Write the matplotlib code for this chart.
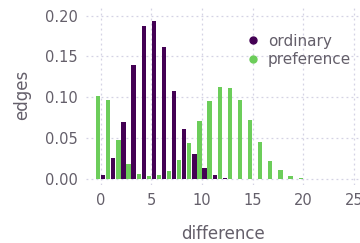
import numpy as np
import matplotlib
matplotlib.use("Agg")
import matplotlib.pyplot as plt
from matplotlib.lines import Line2D

# share of edges per difference value
difference = list(range(0, 21))
ordinary = [0.004, 0.025, 0.070, 0.139, 0.187, 0.193, 0.162, 0.108, 0.061, 0.030,
            0.0126, 0.0045, 0.001, 0, 0, 0, 0, 0, 0, 0, 0]
preference = [0.101, 0.096, 0.048, 0.018, 0.0057, 0.003, 0.004, 0.0098, 0.023, 0.044,
              0.0707, 0.0955, 0.112, 0.111, 0.097, 0.072, 0.0447, 0.022, 0.011, 0.0037, 0.001]

purple = "#440154"
green = "#6ccd5a"
text_col = "#645f6a"

fig = plt.figure(figsize=(3.6, 2.43), dpi=100)
ax = fig.add_axes([86 / 360, 1 - 185 / 243, 1 - 86 / 360, 180 / 243])

x = np.array(difference)
ax.bar(x - 0.25, preference, width=0.42, color=green, zorder=3)
ax.bar(x + 0.25, ordinary, width=0.42, color=purple, zorder=3)

ax.set_xlim(-1.45, 25.6)
ax.set_ylim(-0.0077, 0.213)
ax.set_xticks([0, 5, 10, 15, 20, 25])
ax.set_yticks([0.0, 0.05, 0.10, 0.15, 0.20])
ax.set_yticklabels(["0.00", "0.05", "0.10", "0.15", "0.20"])
ax.grid(True, linestyle=(0, (1.5, 2.5)), color="#d4d2e4", linewidth=0.9, zorder=0)
for s in ax.spines.values():
    s.set_visible(False)
ax.tick_params(length=0, labelsize=10.5, labelcolor=text_col, pad=6)

ax.set_xlabel("difference", fontsize=12, color=text_col, labelpad=12)
ax.set_ylabel("edges", fontsize=12, color=text_col, labelpad=10)

handles = [Line2D([], [], marker="o", linestyle="", color=purple, markersize=5),
           Line2D([], [], marker="o", linestyle="", color=green, markersize=5)]
leg = ax.legend(handles, ["ordinary", "preference"], loc="upper left",
                bbox_to_anchor=(0.56, 0.875), frameon=False, fontsize=11,
                handletextpad=0.45, labelspacing=0.25, handlelength=1.0,
                borderaxespad=0)
for t in leg.get_texts():
    t.set_color(text_col)

fig.savefig("out.png", dpi=100)
